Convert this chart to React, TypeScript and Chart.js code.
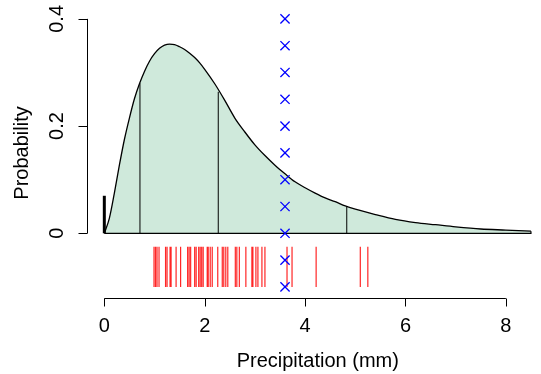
import React, { useEffect, useRef } from 'react';
import { Chart, registerables } from 'chart.js';

Chart.register(...registerables);

// Density curve
const curveX = [0, 0.1, 0.2, 0.3, 0.4, 0.5, 0.6, 0.7, 0.8, 0.9, 1.0, 1.1, 1.2, 1.3, 1.4, 1.5, 1.6, 1.7, 1.8, 1.9, 2.0, 2.2, 2.4, 2.6, 2.8, 3.0, 3.2, 3.4, 3.6, 3.8, 4.0, 4.2, 4.4, 4.6, 4.8, 5.0, 5.4, 5.8, 6.2, 6.6, 7.0, 7.5, 8.0, 8.5];
const curveY = [0, 0.028, 0.075, 0.127, 0.175, 0.215, 0.251, 0.279, 0.302, 0.321, 0.335, 0.345, 0.351, 0.353, 0.352, 0.348, 0.343, 0.336, 0.328, 0.318, 0.306, 0.279, 0.248, 0.215, 0.189, 0.165, 0.145, 0.127, 0.111, 0.096, 0.085, 0.075, 0.066, 0.059, 0.051, 0.045, 0.035, 0.026, 0.02, 0.016, 0.012, 0.008, 0.006, 0.004];

// Probability of zero precipitation (bar at x = 0)
const zeroProb = 0.07;

// Vertical quantile lines
const quantileX = [0.71, 2.27, 4.83];
const quantileY = [0.28, 0.264, 0.05];

// Observed values (rug)
const rugX = [0.99, 1.02, 1.05, 1.09, 1.22, 1.25, 1.31, 1.33, 1.43, 1.52, 1.66, 1.69, 1.72, 1.8, 1.83, 1.88, 1.91, 1.94, 1.97, 2.05, 2.07, 2.11, 2.15, 2.26, 2.35, 2.38, 2.42, 2.46, 2.61, 2.64, 2.69, 2.82, 2.94, 2.96, 3.02, 3.06, 3.14, 3.2, 3.64, 3.74, 4.22, 5.1, 5.25];
const rugBottom = -0.1;
const rugTop = -0.025;

// Blue cross markers
const markX = 3.6;
const markY = [0.4, 0.35, 0.3, 0.25, 0.2, 0.15, 0.1, 0.05, 0, -0.05, -0.1];

// Axes
const xTicks = [0, 2, 4, 6, 8];
const xTickLabels = ['0', '2', '4', '6', '8'];
const yTicks = [0, 0.2, 0.4];
const yTickLabels = ['0', '0.2', '0.4'];
const xTitle = 'Precipitation (mm)';
const yTitle = 'Probability';

const FONT = '"Liberation Sans", Arial, Helvetica, sans-serif';

function segments(xs: number[], y0: number[] | number, y1: number[] | number) {
  const out: any[] = [];
  xs.forEach((x, i) => {
    const a = Array.isArray(y0) ? y0[i] : y0;
    const b = Array.isArray(y1) ? y1[i] : y1;
    out.push({ x, y: a });
    out.push({ x, y: b });
    out.push({ x, y: null });
  });
  return out;
}

const axesPlugin = {
  id: 'rAxes',
  afterDraw(chart: any) {
    const ctx = chart.ctx;
    const xs = chart.scales.x;
    const ys = chart.scales.y;
    const area = chart.chartArea;
    ctx.save();
    ctx.strokeStyle = '#000';
    ctx.fillStyle = '#000';
    ctx.lineWidth = 1;
    // x axis
    const yAx = Math.round(area.bottom) + 0.5;
    const x0 = xs.getPixelForValue(xTicks[0]);
    const x1 = xs.getPixelForValue(xTicks[xTicks.length - 1]);
    ctx.beginPath();
    ctx.moveTo(x0, yAx);
    ctx.lineTo(x1, yAx);
    xTicks.forEach((t) => {
      const px = Math.round(xs.getPixelForValue(t)) + 0.5;
      ctx.moveTo(px, yAx);
      ctx.lineTo(px, yAx + 8);
    });
    ctx.stroke();
    ctx.font = `20px ${FONT}`;
    ctx.textAlign = 'center';
    ctx.textBaseline = 'alphabetic';
    xTicks.forEach((t, i) => {
      ctx.fillText(xTickLabels[i], xs.getPixelForValue(t), 332);
    });
    ctx.fillText(xTitle, (area.left + xs.getPixelForValue(8.85)) / 2, 367);

    // y axis
    const xAx = Math.round(area.left) + 0.5;
    const ya = ys.getPixelForValue(yTicks[0]);
    const yb = ys.getPixelForValue(yTicks[yTicks.length - 1]);
    ctx.beginPath();
    ctx.moveTo(xAx, ya);
    ctx.lineTo(xAx, yb);
    yTicks.forEach((t) => {
      const py = Math.round(ys.getPixelForValue(t)) + 0.5;
      ctx.moveTo(xAx, py);
      ctx.lineTo(xAx - 9, py);
    });
    ctx.stroke();
    yTicks.forEach((t, i) => {
      ctx.save();
      ctx.translate(63, ys.getPixelForValue(t));
      ctx.rotate(-Math.PI / 2);
      ctx.fillText(yTickLabels[i], 0, 0);
      ctx.restore();
    });
    ctx.save();
    ctx.translate(28, (area.top + area.bottom) / 2);
    ctx.rotate(-Math.PI / 2);
    ctx.fillText(yTitle, 0, 0);
    ctx.restore();
    ctx.restore();
  },
};

export default function App() {
  const ref = useRef<HTMLCanvasElement>(null);
  useEffect(() => {
    const canvas = ref.current;
    if (!canvas) return;
    const chart = new Chart(canvas, {
      type: 'line',
      data: {
        datasets: [
          {
            label: 'marks',
            data: markY.map((y) => ({ x: markX, y })),
            showLine: false,
            pointStyle: 'crossRot',
            pointRadius: 6.5,
            pointBorderColor: '#0000FF',
            pointBorderWidth: 1.3,
            borderColor: '#0000FF',
            order: 0,
          },
          {
            label: 'rug',
            data: segments(rugX, rugBottom, rugTop),
            borderColor: 'rgba(255,0,0,0.85)',
            borderWidth: 1.2,
            pointRadius: 0,
            spanGaps: false,
            fill: false,
            order: 1,
          },
          {
            label: 'zero',
            data: [{ x: 0, y: 0 }, { x: 0, y: zeroProb }],
            borderColor: '#000',
            borderWidth: 3,
            pointRadius: 0,
            fill: false,
            order: 2,
          },
          {
            label: 'quantiles',
            data: segments(quantileX, 0, quantileY),
            borderColor: '#000',
            borderWidth: 1,
            pointRadius: 0,
            spanGaps: false,
            fill: false,
            order: 3,
          },
          {
            label: 'baseline',
            data: [{ x: curveX[0], y: 0 }, { x: curveX[curveX.length - 1], y: 0 }, { x: curveX[curveX.length - 1], y: curveY[curveY.length - 1] }],
            borderColor: '#000',
            borderWidth: 1.2,
            pointRadius: 0,
            fill: false,
            order: 4,
          },
          {
            label: 'density',
            data: curveX.map((x, i) => ({ x, y: curveY[i] })),
            borderColor: '#000',
            borderWidth: 1.3,
            backgroundColor: 'rgb(207,233,219)',
            fill: 'origin',
            pointRadius: 0,
            cubicInterpolationMode: 'monotone',
            order: 5,
          },
        ],
      },
      options: {
        responsive: false,
        animation: false,
        events: [],
        layout: { autoPadding: false, padding: { left: 87, right: 0, top: 8, bottom: 76 } },
        scales: {
          x: { type: 'linear', min: -0.345, max: 8.7, display: false },
          y: { type: 'linear', min: -0.1207, max: 0.4203, display: false },
        },
        plugins: {
          legend: { display: false },
          tooltip: { enabled: false },
        },
      },
      plugins: [axesPlugin],
    });
    return () => chart.destroy();
  }, []);
  return (
    <div style={{ position: 'absolute', left: 0, top: 0, width: 541, height: 374, background: '#fff' }}>
      <canvas ref={ref} width={541} height={374} style={{ display: 'block', width: 541, height: 374 }} />
    </div>
  );
}
